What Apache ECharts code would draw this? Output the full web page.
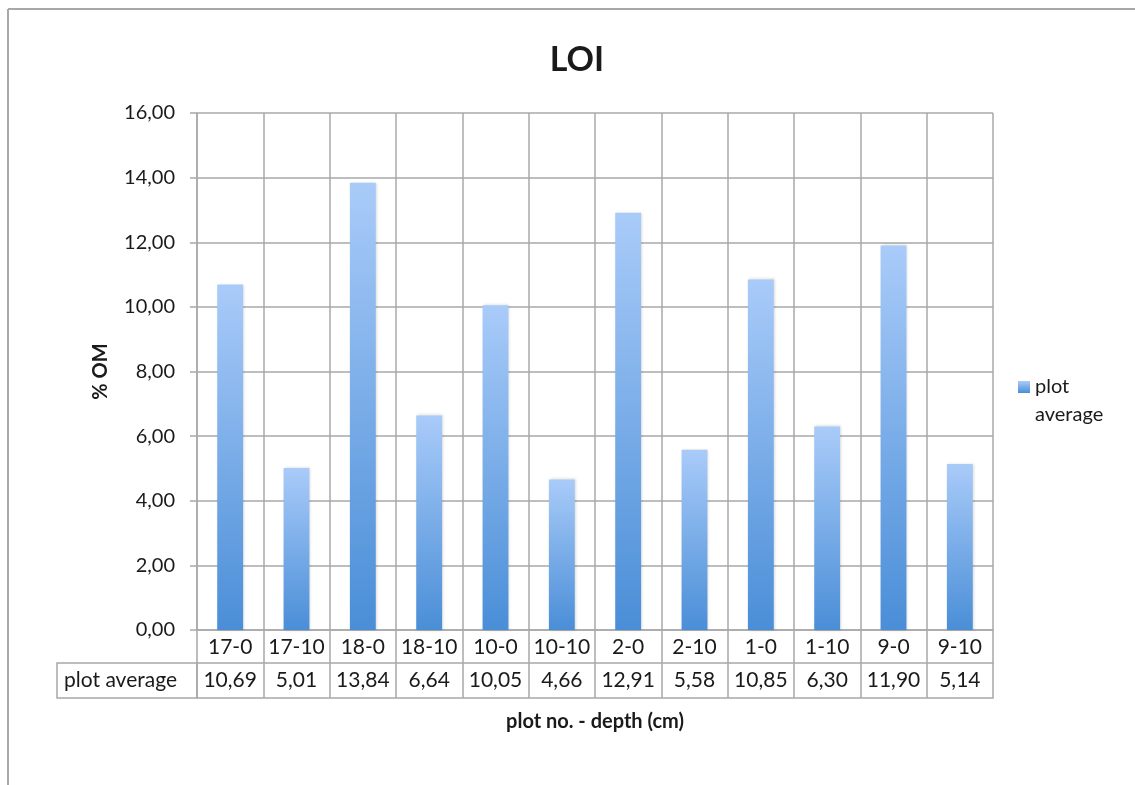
<!DOCTYPE html>
<html>
<head>
<meta charset="utf-8">
<script src="https://cdn.jsdelivr.net/npm/echarts@6/dist/echarts.min.js"></script>
<style>
html,body{margin:0;padding:0;background:#fff;}
#chart{width:1135px;height:785px;}
</style>
</head>
<body>
<div id="chart"></div>
<script>
const categories = ['17-0','17-10','18-0','18-10','10-0','10-10','2-0','2-10','1-0','1-10','9-0','9-10'];
const plotAverage = [10.69,5.01,13.84,6.64,10.05,4.66,12.91,5.58,10.85,6.30,11.90,5.14];
const yTicks = {min:0, max:16, interval:2};
const seriesName = 'plot average';

const fmt = v => v.toFixed(2).replace('.', ',');
const valueLabels = plotAverage.map(fmt);

const FONT = 'Lato';
const TXT = '#1a1a1a';
const GRID = '#a8a8a8';

const chart = echarts.init(document.getElementById('chart'));
chart.setOption({
  animation:false,
  backgroundColor:'#fff',
  textStyle:{fontFamily:FONT},
  title:{
    text:'LOI', left:572, top:38, textAlign:'center',
    textStyle:{fontFamily:FONT, fontWeight:'bold', fontSize:34, color:TXT}
  },
  legend:{
    data:[seriesName],
    left:1018, top:345, orient:'vertical', padding:0,
    itemWidth:12, itemHeight:12,
    icon:'rect',
    formatter: n => '\n' + n.replace(' ', '\n'),
    textStyle:{fontFamily:FONT, fontSize:20, color:TXT, lineHeight:28}
  },
  grid:{left:197, right:142, top:113, bottom:155, containLabel:false},
  xAxis:[
    {
      type:'category', data:categories, position:'bottom',
      axisLine:{show:true, lineStyle:{color:GRID, width:1.5}},
      axisTick:{show:true, inside:false, length:68, interval:0, alignWithLabel:false, lineStyle:{color:GRID, width:1.5}},
      axisLabel:{interval:0, margin:7, fontFamily:FONT, fontSize:21, lineHeight:21, color:TXT},
      splitLine:{show:true, interval:0, lineStyle:{color:GRID, width:1.5}}
    },
    {
      type:'category', data:valueLabels, position:'bottom', offset:33,
      name:'plot average', nameLocation:'start', nameGap:20,
      nameTextStyle:{fontFamily:FONT, fontSize:21, lineHeight:35, color:TXT, verticalAlign:'top'},
      axisLine:{show:true, lineStyle:{color:GRID, width:1.5}},
      axisTick:{show:false},
      axisLabel:{interval:0, margin:7, fontFamily:FONT, fontSize:21, lineHeight:21, color:TXT},
      splitLine:{show:false}
    },
    {
      type:'category', data:categories, position:'bottom', offset:68,
      name:'plot no. - depth (cm)', nameLocation:'middle', nameGap:14,
      nameTextStyle:{fontFamily:FONT, fontSize:20, fontWeight:'bold', color:TXT},
      axisLine:{show:true, lineStyle:{color:GRID, width:1.5}},
      axisTick:{show:false},
      axisLabel:{show:false},
      splitLine:{show:false}
    }
  ],
  yAxis:{
    type:'value', min:yTicks.min, max:yTicks.max, interval:yTicks.interval,
    name:'% OM', nameLocation:'middle', nameGap:86,
    nameTextStyle:{fontFamily:FONT, fontSize:20, fontWeight:'bold', color:TXT},
    axisLine:{show:true, lineStyle:{color:GRID, width:1.5}},
    axisTick:{show:true, length:7, lineStyle:{color:GRID, width:1.5}},
    axisLabel:{margin:22, fontFamily:FONT, fontSize:20, color:TXT, formatter:v => fmt(v)},
    splitLine:{show:true, lineStyle:{color:GRID, width:1.5}}
  },
  series:[{
    name:seriesName, type:'bar', xAxisIndex:0, data:plotAverage, barWidth:'39%',
    itemStyle:{
      color:new echarts.graphic.LinearGradient(0,0,0,1,[
        {offset:0, color:'#a9cbf9'},
        {offset:1, color:'#4a8ed7'}
      ]),
      shadowBlur:3, shadowColor:'rgba(0,0,0,0.18)', shadowOffsetX:1, shadowOffsetY:0
    }
  }],
  graphic:[
    {type:'line', shape:{x1:8, y1:9, x2:1135, y2:9}, style:{stroke:'#a8a8a8', lineWidth:2}, silent:true},
    {type:'line', shape:{x1:8, y1:9, x2:8, y2:785}, style:{stroke:'#a8a8a8', lineWidth:2}, silent:true},
    {type:'rect', shape:{x:57, y:663, width:140, height:35}, style:{fill:'none', stroke:GRID, lineWidth:1.5}, silent:true, z:-1}
  ]
});
</script>
</body>
</html>
